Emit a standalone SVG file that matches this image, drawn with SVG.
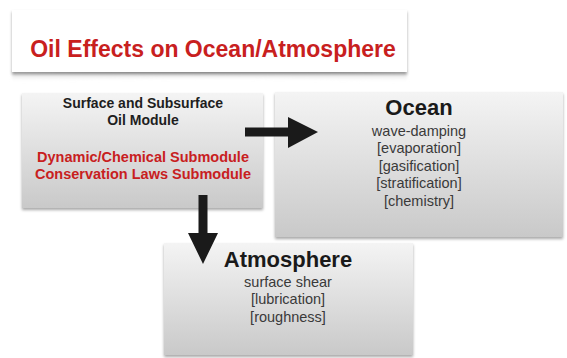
<svg xmlns="http://www.w3.org/2000/svg" width="567" height="358" viewBox="0 0 567 358">
  <defs>
    <linearGradient id="boxGrad" x1="0" y1="0" x2="0" y2="1">
      <stop offset="0" stop-color="#f4f4f4"/>
      <stop offset="1" stop-color="#c9c9c9"/>
    </linearGradient>
    <linearGradient id="curl" x1="0" y1="0" x2="0" y2="1">
      <stop offset="0" stop-color="#9a9a9a" stop-opacity="0.9"/>
      <stop offset="1" stop-color="#ffffff" stop-opacity="0"/>
    </linearGradient>
    <filter id="blur" x="-10%" y="-50%" width="120%" height="200%">
      <feGaussianBlur stdDeviation="1.5"/>
    </filter>
    <filter id="shadow" x="-5%" y="-5%" width="110%" height="115%">
      <feGaussianBlur in="SourceAlpha" stdDeviation="1.5"/>
      <feOffset dy="2"/>
      <feComponentTransfer><feFuncA type="linear" slope="0.35"/></feComponentTransfer>
      <feMerge><feMergeNode/><feMergeNode in="SourceGraphic"/></feMerge>
    </filter>
  </defs>
  <style>
    .box { fill: url(#boxGrad); }
    .bold { font-family: "Liberation Sans", Arial, sans-serif; font-weight: bold; text-anchor: middle; }
    .reg { font-family: "Liberation Sans", Arial, sans-serif; font-size: 14.5px; fill: #3a3a3a; text-anchor: middle; }
    .red { fill: #c8201e; }
    .arrow { fill: #1a1a1a; }
  </style>

  <rect width="567" height="358" fill="#ffffff"/>

  <g id="title">
    <path d="M12,72 Q210,66 407,72 L407,82 Q210,74 12,82 Z" fill="url(#curl)" filter="url(#blur)"/>
    <rect x="12" y="10" width="395" height="62" fill="#ffffff" filter="url(#shadow)"/>
    <text class="bold red" x="213" y="57" font-size="23">Oil Effects on Ocean/Atmosphere</text>
  </g>

  <g id="oil-module">
    <rect class="box" x="22" y="93" width="241" height="115" filter="url(#shadow)"/>
    <text class="bold" x="143" y="108" font-size="14" fill="#1e1e1e">Surface and Subsurface</text>
    <text class="bold" x="143" y="125" font-size="14" fill="#1e1e1e">Oil Module</text>
    <text class="bold red" x="143" y="162" font-size="14.5">Dynamic/Chemical Submodule</text>
    <text class="bold red" x="143" y="179" font-size="14.5">Conservation Laws Submodule</text>
  </g>

  <g id="ocean">
    <rect class="box" x="275" y="92" width="288" height="145" filter="url(#shadow)"/>
    <text class="bold" x="419" y="115" font-size="22" fill="#1a1a1a">Ocean</text>
    <text class="reg" x="419" y="136">wave-damping</text>
    <text class="reg" x="419" y="153">[evaporation]</text>
    <text class="reg" x="419" y="171">[gasification]</text>
    <text class="reg" x="419" y="188">[stratification]</text>
    <text class="reg" x="419" y="206">[chemistry]</text>
  </g>

  <g id="atmosphere">
    <rect class="box" x="164" y="243" width="249" height="112" filter="url(#shadow)"/>
    <text class="bold" x="288" y="267" font-size="22" fill="#1a1a1a">Atmosphere</text>
    <text class="reg" x="288" y="287">surface shear</text>
    <text class="reg" x="288" y="304">[lubrication]</text>
    <text class="reg" x="288" y="322">[roughness]</text>
  </g>

  <g id="connectors">
    <path class="arrow" d="M245,127.5 L288,127.5 L288,117 L318,132 L288,148 L288,136.5 L245,136.5 Z"/>
    <path class="arrow" d="M198.5,195 L207.5,195 L207.5,233 L218,233 L203,264 L188,233 L198.5,233 Z"/>
  </g>
</svg>
